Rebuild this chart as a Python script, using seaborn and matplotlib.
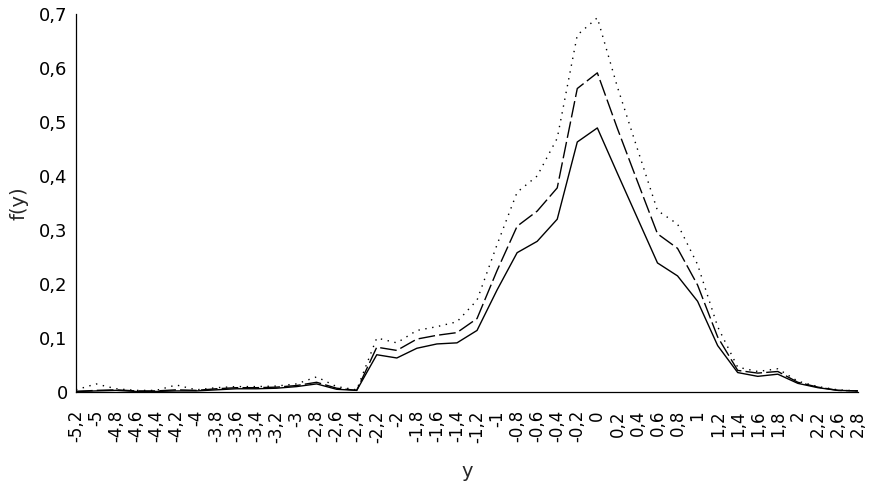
import matplotlib
matplotlib.use("Agg")
import matplotlib.pyplot as plt
import seaborn as sns
import pandas as pd
import numpy as np

categories = ["-5,2","-5","-4,8","-4,6","-4,4","-4,2","-4","-3,8","-3,6","-3,4",
              "-3,2","-3","-2,8","-2,6","-2,4","-2,2","-2","-1,8","-1,6","-1,4",
              "-1,2","-1","-0,8","-0,6","-0,4","-0,2","0","0,2","0,4","0,6",
              "0,8","1","1,2","1,4","1,6","1,8","2","2,2","2,6","2,8"]

series_low = [0.001,0.002,0.003,0.001,0.001,0.002,0.002,0.004,0.006,0.006,
              0.007,0.010,0.015,0.005,0.003,0.069,0.063,0.081,0.089,0.091,
              0.114,0.189,0.258,0.279,0.320,0.463,0.489,0.405,0.322,0.239,
              0.215,0.168,0.086,0.036,0.029,0.033,0.016,0.008,0.003,0.002]

series_mid = [0.001,0.003,0.004,0.002,0.002,0.004,0.003,0.006,0.008,0.008,
              0.009,0.012,0.018,0.007,0.003,0.083,0.077,0.098,0.105,0.110,
              0.136,0.225,0.307,0.335,0.378,0.562,0.591,0.488,0.390,0.293,
              0.266,0.198,0.102,0.040,0.035,0.038,0.018,0.009,0.003,0.002]

series_high = [0.004,0.015,0.006,0.003,0.003,0.013,0.004,0.008,0.010,0.010,
               0.011,0.015,0.028,0.010,0.004,0.100,0.091,0.114,0.121,0.130,
               0.170,0.273,0.370,0.400,0.470,0.661,0.693,0.565,0.450,0.336,
               0.311,0.236,0.121,0.046,0.038,0.043,0.020,0.010,0.004,0.002]

y_ticks = [0, 0.1, 0.2, 0.3, 0.4, 0.5, 0.6, 0.7]
y_tick_labels = ["0", "0,1", "0,2", "0,3", "0,4", "0,5", "0,6", "0,7"]

pos = np.arange(len(categories))
df = pd.concat([
    pd.DataFrame({"pos": pos, "f": series_low, "serie": "low"}),
    pd.DataFrame({"pos": pos, "f": series_mid, "serie": "mid"}),
    pd.DataFrame({"pos": pos, "f": series_high, "serie": "high"}),
])

sns.set_theme(style="white")
plt.rcParams['font.family'] = ['DejaVu Sans']

fig = plt.figure(figsize=(8.76, 4.93), dpi=100)
ax = fig.add_axes([76/876, 1-392/493, (858-76)/876, (392-14)/493])

sns.lineplot(data=df, x="pos", y="f", hue="serie", style="serie",
             palette={"low": "black", "mid": "black", "high": "black"},
             dashes={"low": "", "mid": (12, 3), "high": (1, 4)},
             linewidth=1.0, legend=False, ax=ax)

ax.set_xlim(0, len(categories) - 1)
ax.set_ylim(0, 0.7)
ax.set_xticks(pos)
ax.set_xticklabels(categories, rotation=90, fontsize=12)
ax.set_yticks(y_ticks)
ax.set_yticklabels(y_tick_labels, fontsize=13)
ax.tick_params(axis="both", direction="inout", length=6, width=0.8, colors="black", pad=3)
ax.tick_params(axis="x", pad=10)
for s in ["top", "right"]:
    ax.spines[s].set_visible(False)
for s in ["left", "bottom"]:
    ax.spines[s].set_color("black")
    ax.spines[s].set_linewidth(0.9)
ax.set_xlabel("y", fontsize=14, labelpad=14)
ax.set_ylabel("f(y)", fontsize=14, labelpad=8)

fig.savefig("out.png", dpi=100)
